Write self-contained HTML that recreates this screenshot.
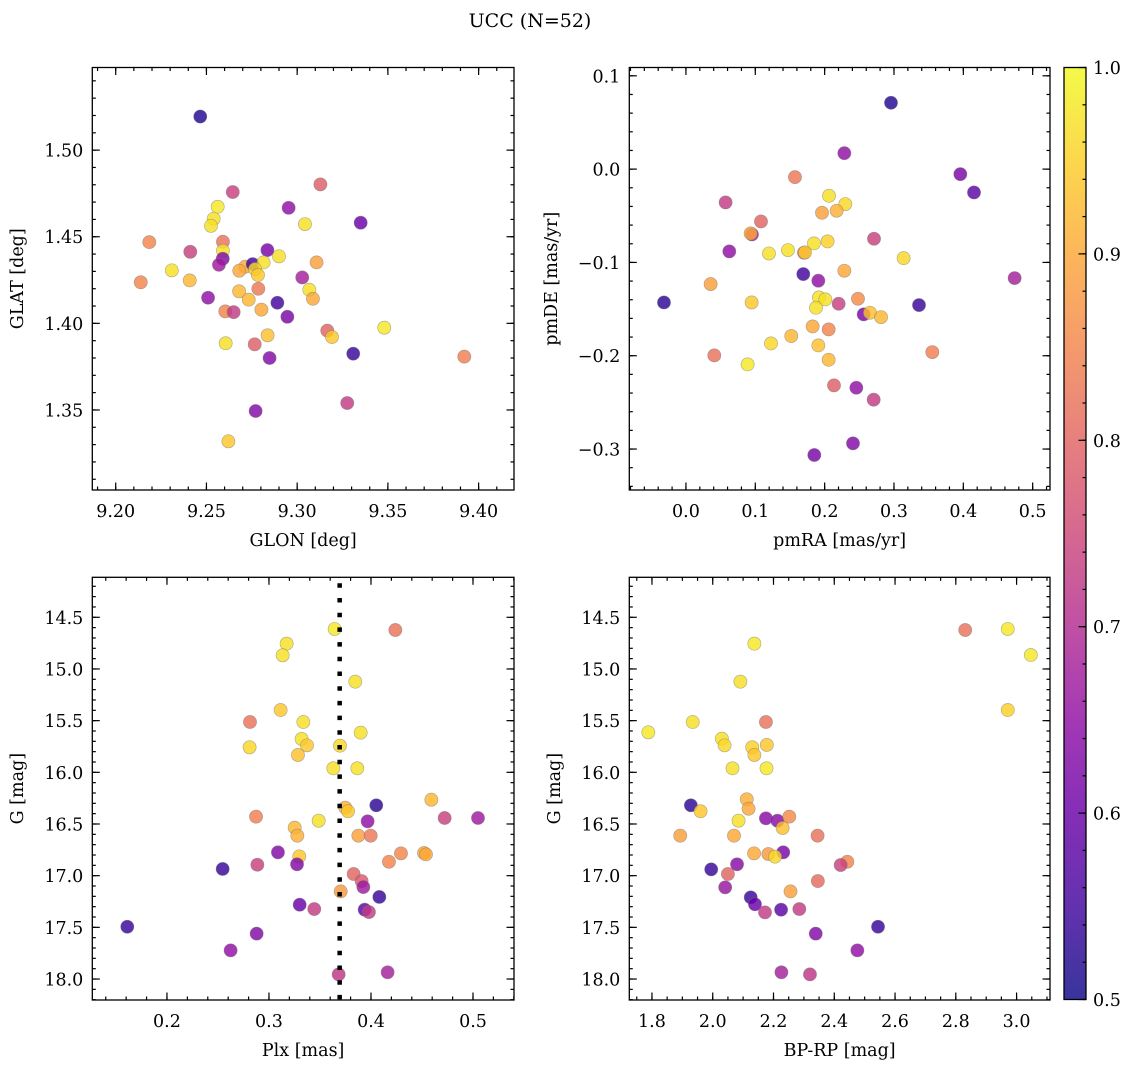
<!DOCTYPE html>
<html><head><meta charset="utf-8"><style>
html,body{margin:0;padding:0;background:#fff;}
svg{display:block;font-family:"DejaVu Serif","Liberation Serif",serif;}
</style></head><body>
<svg id="fig" width="1136" height="1067" viewBox="0 0 1136 1067" xmlns="http://www.w3.org/2000/svg">
<defs>
<linearGradient id="plasma" x1="0" y1="1" x2="0" y2="0">
<stop offset="0" stop-color="#0d0887"/><stop offset="0.1" stop-color="#41049d"/><stop offset="0.2" stop-color="#6a00a8"/><stop offset="0.3" stop-color="#8f0da4"/><stop offset="0.4" stop-color="#b12a90"/><stop offset="0.5" stop-color="#cc4778"/><stop offset="0.6" stop-color="#e16462"/><stop offset="0.7" stop-color="#f2844b"/><stop offset="0.8" stop-color="#fca636"/><stop offset="0.9" stop-color="#fcce25"/><stop offset="1" stop-color="#f0f921"/>
</linearGradient>
</defs>
<text x="530" y="27" font-size="19" text-anchor="middle">UCC (N=52)</text>
</svg>
<script>
// ---------- data (per panel) ----------
const glon = [9.2466,9.3128,9.2645,9.2562,9.2953,9.2540,9.2525,9.3043,9.3350,9.2185,9.2591,9.2411,9.2591,9.2836,9.2900,9.2590,9.2569,9.2309,9.2714,9.2681,9.2755,9.2815,9.2768,9.2784,9.3107,9.3028,9.2138,9.2408,9.2786,9.3067,9.2680,9.3087,9.2509,9.2733,9.2891,9.2604,9.2650,9.2803,9.2946,9.3480,9.3166,9.3192,9.2837,9.2606,9.2766,9.2848,9.3309,9.3921,9.3276,9.2771,9.2621];
const glat = [1.5194,1.4802,1.4758,1.4673,1.4667,1.4604,1.4563,1.4573,1.4581,1.4469,1.4471,1.4413,1.4419,1.4423,1.4387,1.4373,1.4338,1.4306,1.4327,1.4304,1.4342,1.4352,1.4313,1.4279,1.4352,1.4265,1.4237,1.4248,1.4200,1.4194,1.4185,1.4142,1.4148,1.4137,1.4119,1.4069,1.4065,1.4079,1.4038,1.3975,1.3958,1.3921,1.3931,1.3885,1.3879,1.3800,1.3825,1.3808,1.3540,1.3494,1.3319];
const probTL = [0.52,0.79,0.74,0.98,0.65,0.97,0.97,0.97,0.60,0.85,0.82,0.74,0.97,0.62,0.97,0.63,0.67,0.97,0.90,0.90,0.55,0.97,0.96,0.94,0.89,0.68,0.85,0.92,0.83,0.97,0.92,0.90,0.65,0.92,0.55,0.85,0.73,0.90,0.62,0.98,0.80,0.94,0.93,0.97,0.79,0.63,0.54,0.84,0.73,0.63,0.94];

const pmra = [0.2957,0.2284,0.3957,0.4154,0.1572,0.0572,0.2063,0.2298,0.1962,0.2173,0.1082,0.2712,0.0952,0.0933,0.0625,0.1197,0.1471,0.1846,0.2043,0.1702,0.1716,0.3139,0.2284,0.1692,0.1909,0.4740,0.0356,-0.0317,0.0947,0.1918,0.2010,0.1875,0.2202,0.2481,0.3361,0.2563,0.2654,0.2813,0.1827,0.2058,0.1519,0.1226,0.1909,0.3553,0.0409,0.2058,0.0889,0.2135,0.2457,0.2707,0.2409,0.1851];
const pmde = [0.0711,0.0171,-0.0054,-0.0250,-0.0086,-0.0357,-0.0286,-0.0375,-0.0468,-0.0446,-0.0561,-0.0746,-0.0700,-0.0689,-0.0882,-0.0904,-0.0868,-0.0796,-0.0775,-0.0896,-0.0893,-0.0954,-0.1089,-0.1125,-0.1196,-0.1168,-0.1232,-0.1429,-0.1429,-0.1375,-0.1396,-0.1486,-0.1443,-0.1389,-0.1457,-0.1557,-0.1539,-0.1586,-0.1686,-0.1718,-0.1789,-0.1868,-0.1889,-0.1961,-0.1996,-0.2043,-0.2093,-0.2318,-0.2343,-0.2471,-0.2939,-0.3064];
const probTR = [0.52,0.65,0.62,0.58,0.83,0.73,0.97,0.96,0.89,0.91,0.80,0.74,0.67,0.90,0.65,0.97,0.97,0.97,0.95,0.82,0.94,0.96,0.90,0.55,0.65,0.68,0.89,0.53,0.94,0.97,0.97,0.97,0.74,0.86,0.54,0.62,0.93,0.92,0.90,0.85,0.92,0.96,0.93,0.84,0.82,0.92,0.98,0.79,0.65,0.73,0.63,0.62];

const plx = [0.3644,0.4239,0.3173,0.3134,0.3846,0.3114,0.2814,0.3337,0.3899,0.3320,0.3373,0.3696,0.2810,0.3284,0.3631,0.3866,0.4592,0.3748,0.3775,0.4052,0.2873,0.3487,0.3967,0.4722,0.5049,0.3252,0.3278,0.3876,0.3997,0.3088,0.3297,0.3275,0.2886,0.2546,0.4294,0.4176,0.4520,0.4539,0.3830,0.3908,0.3925,0.3703,0.4082,0.3301,0.3444,0.3938,0.3980,0.1611,0.2879,0.2624,0.3683,0.4163];
const gBL = [14.613,14.623,14.755,14.868,15.123,15.397,15.513,15.513,15.616,15.677,15.739,15.742,15.758,15.832,15.961,15.961,16.265,16.342,16.377,16.319,16.429,16.468,16.474,16.442,16.442,16.535,16.613,16.613,16.613,16.774,16.813,16.890,16.894,16.935,16.784,16.865,16.781,16.794,16.984,17.052,17.110,17.152,17.206,17.281,17.323,17.329,17.352,17.494,17.561,17.723,17.955,17.935];
const probBL = [0.98,0.82,0.97,0.97,0.97,0.94,0.82,0.97,0.97,0.97,0.94,0.96,0.96,0.93,0.97,0.97,0.92,0.91,0.94,0.53,0.84,0.97,0.65,0.74,0.67,0.92,0.91,0.89,0.83,0.63,0.94,0.63,0.74,0.54,0.85,0.85,0.90,0.90,0.80,0.78,0.67,0.88,0.54,0.60,0.73,0.58,0.73,0.54,0.63,0.65,0.72,0.68];
const plxLine = [0.3693];

const bprp = [2.831,2.971,3.047,2.137,2.091,2.971,1.934,2.175,1.788,2.030,2.039,2.130,2.178,2.137,2.065,2.177,2.112,2.118,1.928,1.960,2.175,2.213,2.252,2.085,2.230,1.893,2.070,2.345,2.136,2.183,2.232,2.205,2.443,2.421,1.995,2.080,2.050,2.346,2.041,2.256,2.125,2.139,2.172,2.225,2.285,2.544,2.339,2.476,2.226,2.320];
const gBR = [14.623,14.613,14.865,14.755,15.123,15.397,15.513,15.513,15.613,15.674,15.739,15.758,15.735,15.832,15.961,15.961,16.261,16.352,16.319,16.377,16.445,16.468,16.429,16.468,16.539,16.613,16.613,16.613,16.784,16.790,16.774,16.816,16.865,16.897,16.939,16.890,16.984,17.052,17.113,17.152,17.210,17.277,17.355,17.329,17.323,17.494,17.561,17.723,17.935,17.955];
const probBR = [0.82,0.98,0.98,0.98,0.97,0.95,0.97,0.82,0.98,0.97,0.96,0.95,0.94,0.94,0.97,0.98,0.91,0.90,0.53,0.94,0.64,0.64,0.86,0.97,0.93,0.89,0.90,0.82,0.90,0.88,0.62,0.96,0.85,0.74,0.54,0.64,0.80,0.81,0.66,0.89,0.54,0.60,0.73,0.58,0.73,0.54,0.63,0.65,0.68,0.72];

const cbarTicks = [0.5,0.6,0.7,0.8,0.9,1.0];

// ---------- helpers ----------
const NS = 'http://www.w3.org/2000/svg';
const svg = document.getElementById('fig');
function mk(tag, attrs, parent){
  const e = document.createElementNS(NS, tag);
  for (const k in attrs) e.setAttribute(k, attrs[k]);
  parent.appendChild(e);
  return e;
}
const stops = [[13,8,135],[65,4,157],[106,0,168],[143,13,164],[177,42,144],[204,71,120],[225,100,98],[242,132,75],[252,166,54],[252,206,37],[240,249,33]];
function plasma(p){
  let t = (p - 0.5) / 0.5; t = Math.max(0, Math.min(1, t));
  const f = t * 10, i = Math.min(9, Math.floor(f)), r = f - i;
  const a = stops[i], b = stops[i+1];
  return 'rgb(' + [0,1,2].map(k => Math.round(a[k] + (b[k]-a[k]) * r)).join(',') + ')';
}
function tickVals(lo, hi, step){
  const out = [];
  for (let i = Math.ceil(lo/step - 1e-6); i*step <= hi + 1e-9; i++) out.push(+(i*step).toFixed(6));
  return out;
}
function fmt(v, d){ const s = Math.abs(v).toFixed(d); return (v < -1e-9 ? '\u2212' : '') + s; }

function drawPanel(cfg, xs, ys, ps){
  const g = mk('g', {}, svg);
  
  
  const {x0, x1, y0, y1} = cfg.box;
  const sx = v => x0 + (v - cfg.xd[0]) / (cfg.xd[1] - cfg.xd[0]) * (x1 - x0);
  const sy = v => y0 + (v - cfg.yd[0]) / (cfg.yd[1] - cfg.yd[0]) * (y1 - y0);
  const tg = mk('g', {stroke:'#000','stroke-width':1.2}, g);
  
  
  const xlo = Math.min(...cfg.xd), xhi = Math.max(...cfg.xd), ylo = Math.min(...cfg.yd), yhi = Math.max(...cfg.yd);
  tickVals(xlo, xhi, cfg.xminor).forEach(v => { const x = sx(v); mk('line',{x1:x,x2:x,y1:y1,y2:y1-3.5},tg); mk('line',{x1:x,x2:x,y1:y0,y2:y0+3.5},tg); });
  tickVals(ylo, yhi, cfg.yminor).forEach(v => { const y = sy(v); mk('line',{x1:x0,x2:x0+3.5,y1:y,y2:y},tg); mk('line',{x1:x1,x2:x1-3.5,y1:y,y2:y},tg); });
  tickVals(xlo, xhi, cfg.xmajor).forEach(v => {
    const x = sx(v); mk('line',{x1:x,x2:x,y1:y1,y2:y1-7.5},tg); mk('line',{x1:x,x2:x,y1:y0,y2:y0+7.5},tg);
    const t = mk('text',{x:x,y:y1+27,'font-size':17.5,'text-anchor':'middle'},g);
    
    
    t.textContent = fmt(v, cfg.xdec);
  });
  tickVals(ylo, yhi, cfg.ymajor).forEach(v => {
    const y = sy(v); mk('line',{x1:x0,x2:x0+7.5,y1:y,y2:y},tg); mk('line',{x1:x1,x2:x1-7.5,y1:y,y2:y},tg);
    const t = mk('text',{x:x0-9,y:y+6.5,'font-size':17.5,'text-anchor':'end'},g);
    
    
    t.textContent = fmt(v, cfg.ydec);
  });
  const pg = mk('g', {}, g);
  
  
  const clipId = cfg.name + '-clip';
  const cp = mk('clipPath', {id: clipId}, g);
  mk('rect', {x:x0, y:y0, width:x1-x0, height:y1-y0}, cp);
  pg.setAttribute('clip-path', 'url(#' + clipId + ')');
  xs.forEach((xv, i) => {
    if (ys[i] === undefined) return;
    const c = mk('circle', {cx:sx(xv), cy:sy(ys[i]), r:6.6, fill:plasma(ps[i]), 'fill-opacity':0.82, stroke:'#777', 'stroke-opacity':0.6, 'stroke-width':0.6}, pg);
    
    
  });
  if (cfg.vline) {
    const l = mk('line', {x1:sx(cfg.vline[0]), x2:sx(cfg.vline[0]), y1:y0, y2:y1, stroke:'#000', 'stroke-width':4.5, 'stroke-dasharray':'4.5 10.2', 'stroke-dashoffset':'-6'}, g);
    
    
  }
  const fr = mk('rect', {x:x0, y:y0, width:x1-x0, height:y1-y0, fill:'none', stroke:'#000', 'stroke-width':1.3}, g);
  
  
  const xl = mk('text', {x:(x0+x1)/2, y:y1+56, 'font-size':17.5, 'text-anchor':'middle'}, g);
  
  
  xl.textContent = cfg.xlabel;
  const yx = cfg.ylabelX, yc = (y0+y1)/2;
  const yl = mk('text', {x:yx, y:yc, 'font-size':17.5, 'text-anchor':'middle', transform:'rotate(-90 ' + yx + ' ' + yc + ')'}, g);
  
  
  yl.textContent = cfg.ylabel;
}

drawPanel({name:'glon-glat-panel', box:{x0:92.3,x1:514,y0:67.5,y1:490}, xd:[9.1871,9.4195], yd:[1.5477,1.3038], xmajor:0.05, xminor:0.01, ymajor:0.05, yminor:0.01, xdec:2, ydec:2, xlabel:'GLON [deg]', ylabel:'GLAT [deg]', ylabelX:23}, glon, glat, probTL);
drawPanel({name:'pm-panel', box:{x0:629.3,x1:1050,y0:67.5,y1:490}, xd:[-0.0817,0.525], yd:[0.1089,-0.3439], xmajor:0.1, xminor:0.02, ymajor:0.1, yminor:0.02, xdec:1, ydec:1, xlabel:'pmRA [mas/yr]', ylabel:'pmDE [mas/yr]', ylabelX:557}, pmra, pmde, probTR);
drawPanel({name:'plx-g-panel', box:{x0:92.3,x1:514,y0:577.3,y1:1000}, xd:[0.1268,0.5402], yd:[14.113,18.203], xmajor:0.1, xminor:0.02, ymajor:0.5, yminor:0.1, xdec:1, ydec:1, xlabel:'Plx [mas]', ylabel:'G [mag]', ylabelX:23, vline:plxLine}, plx, gBL, probBL);
drawPanel({name:'cmd-panel', box:{x0:629.3,x1:1050,y0:577.3,y1:1000}, xd:[1.7254,3.110], yd:[14.113,18.203], xmajor:0.2, xminor:0.05, ymajor:0.5, yminor:0.1, xdec:1, ydec:1, xlabel:'BP-RP [mag]', ylabel:'G [mag]', ylabelX:560}, bprp, gBR, probBR);

// colorbar
const cb = mk('g', {}, svg);


const cbx = 1064, cby0 = 67.5, cby1 = 999.5, cbw = 22;
mk('rect', {x:cbx, y:cby0, width:cbw, height:cby1-cby0, fill:'url(#plasma)', 'fill-opacity':0.82}, cb);
mk('rect', {x:cbx, y:cby0, width:cbw, height:cby1-cby0, fill:'none', stroke:'#000', 'stroke-width':1.3}, cb);
const cs = v => cby1 - (v - 0.5) / 0.5 * (cby1 - cby0);
tickVals(0.5, 1.0, 0.02).forEach(v => { mk('line', {x1:cbx+cbw, x2:cbx+cbw-3.5, y1:cs(v), y2:cs(v), stroke:'#000', 'stroke-width':1.2}, cb); });
cbarTicks.forEach(v => {
  mk('line', {x1:cbx+cbw, x2:cbx+cbw-7.5, y1:cs(v), y2:cs(v), stroke:'#000', 'stroke-width':1.2}, cb);
  const t = mk('text', {x:cbx+cbw+7, y:cs(v)+6.5, 'font-size':17.5}, cb);
  
  
  t.textContent = v.toFixed(1);
});
</script>
</body></html>
